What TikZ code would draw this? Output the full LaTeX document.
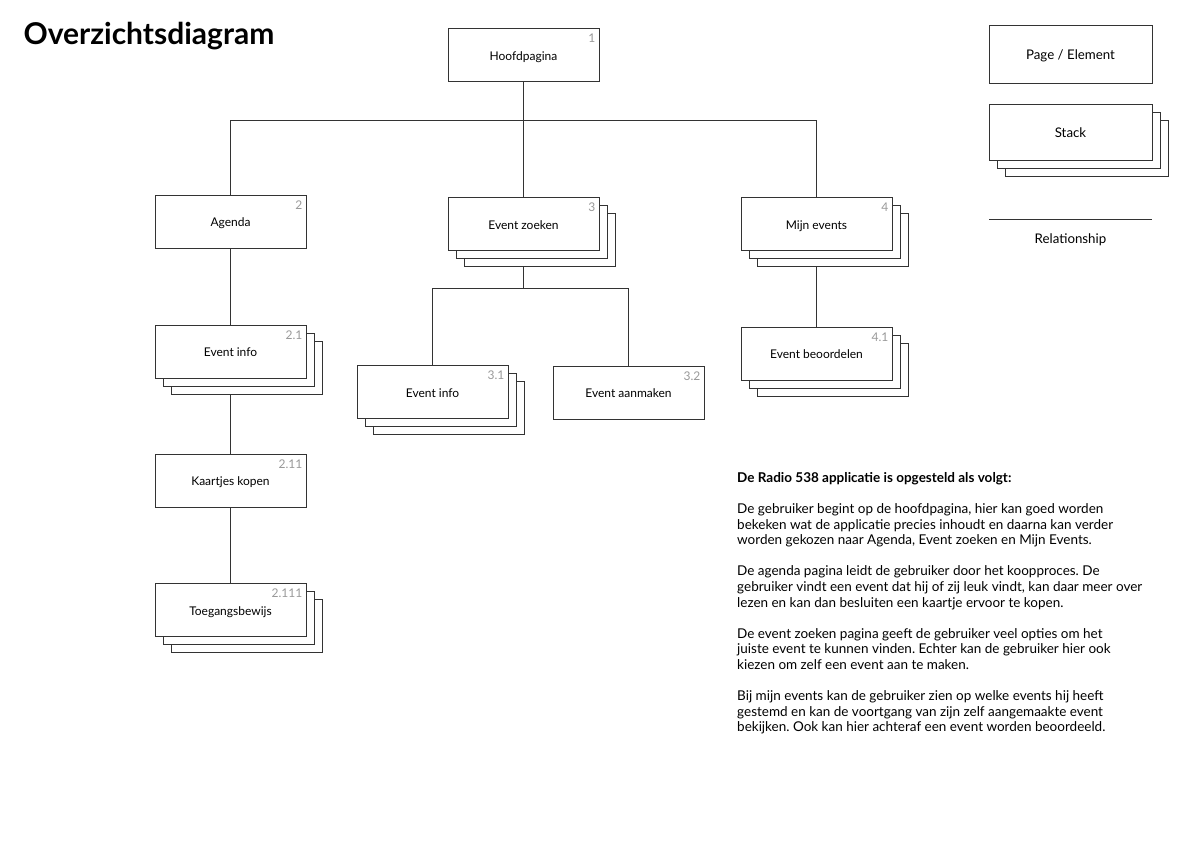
\documentclass[tikz,border=0pt]{standalone}
\usepackage{fontspec}
\setmainfont{Lato}
\usepackage{tikz}
\usetikzlibrary{positioning,shadows,backgrounds}
\frenchspacing

\begin{document}
\begin{tikzpicture}[x=1pt, y=-1pt,
  every node/.style={font=\fontsize{12}{14}\selectfont},
  pagebox/.style={draw=black!80, line width=1pt, fill=white, minimum width=151pt,
                  minimum height=53pt, inner sep=0pt, text height=10pt, text depth=0pt},
  stackbox/.style={pagebox,
    copy shadow={shadow xshift=16pt, shadow yshift=-16pt, draw=black!80, line width=1pt, fill=white},
    copy shadow={shadow xshift=8pt, shadow yshift=-8pt, draw=black!80, line width=1pt, fill=white}},
  num/.style={label={[anchor=north east, inner sep=0pt, xshift=-4pt, yshift=-6pt,
                      text=black!40]north east:#1}},
  link/.style={draw=black!80, line width=1pt},
  legend/.style={font=\fontsize{13.3}{15}\selectfont},
]
  \useasboundingbox (0,0) rectangle (1191,843);

  % Title
  \node[font=\fontsize{30}{36}\selectfont\bfseries, anchor=base west] (title) at (20,45)
    {Overzichtsdiagram};

  % Top level
  \node[pagebox, num=1]  (hp) at (523.5,55)  {Hoofdpagina};
  \node[pagebox, num=2]  (ag) at (230.5,221.5) {Agenda};
  \node[stackbox, num=3] (ez) at (523.5,224) {Event zoeken};
  \node[stackbox, num=4] (me) at (816.5,224) {Mijn events};

  % Agenda branch
  \node[stackbox, num=2.1]  (ei2) at (230.5,351.5) {Event info};
  \node[pagebox, num=2.11]  (kk)  at (230.5,480.5) {Kaartjes kopen};
  \node[stackbox, num=2.111] (tb) at (230.5,610)   {Toegangsbewijs};

  % Event zoeken branch
  \node[stackbox, num=3.1] (ei3) at (432.5,392)   {Event info};
  \node[pagebox, num=3.2]  (ea)  at (628.5,392.5) {Event aanmaken};

  % Mijn events branch
  \node[stackbox, num=4.1] (eb) at (816.5,353.5) {Event beoordelen};

  % Connectors
  \coordinate (bar1) at (523.5,120.5);
  \coordinate (bar2) at (523.5,288.5);
  \begin{scope}[on background layer]
    \draw[link] (hp) -- (ez);
    \draw[link] (ag.north) |- (bar1) -| (me.north);
    \draw[link] (ag) -- (ei2);
    \draw[link] (ei2) -- (kk);
    \draw[link] (kk) -- (tb);
    \draw[link] (ez) -- (bar2);
    \draw[link] (ei3.north) |- (bar2) -| (ea.north);
    \draw[link] (me) -- (eb);
  \end{scope}

  % Legend
  \node[pagebox, legend, minimum width=163pt, minimum height=57pt] (lgpage) at (1070.5,54.5) {Page / Element};
  \node[stackbox, legend, minimum width=163pt, minimum height=56pt] (lgstack) at (1070.5,132) {Stack};
  \coordinate (lgrela) at (989,219.5);
  \coordinate (lgrelb) at (1152,219.5);
  \draw[link] (lgrela) -- (lgrelb);
  \node[legend] (lgrel) at (1070.5,239.5) {Relationship};

  % Description
  \node[anchor=north west, align=left, inner sep=0pt, font=\fontsize{13.5}{15.6}\selectfont]
    (desc) at (737,472) {%
    \textbf{De Radio 538 applicatie is opgesteld als volgt:}\\[15.6pt]
    De gebruiker begint op de hoofdpagina, hier kan goed worden\\
    bekeken wat de applicatie precies inhoudt en daarna kan verder\\
    worden gekozen naar Agenda, Event zoeken en Mijn Events.\\[15.6pt]
    De agenda pagina leidt de gebruiker door het koopproces. De\\
    gebruiker vindt een event dat hij of zij leuk vindt, kan daar meer over\\
    lezen en kan dan besluiten een kaartje ervoor te kopen.\\[15.6pt]
    De event zoeken pagina geeft de gebruiker veel opties om het\\
    juiste event te kunnen vinden. Echter kan de gebruiker hier ook\\
    kiezen om zelf een event aan te maken.\\[15.6pt]
    Bij mijn events kan de gebruiker zien op welke events hij heeft\\
    gestemd en kan de voortgang van zijn zelf aangemaakte event\\
    bekijken. Ook kan hier achteraf een event worden beoordeeld.};
\end{tikzpicture}
\end{document}
